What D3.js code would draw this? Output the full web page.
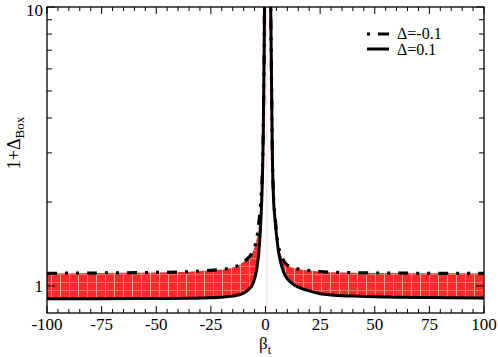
<!DOCTYPE html>
<meta charset="utf-8">
<style>
body { margin: 0; background: #fff; }
svg text { font-family: "Liberation Serif", "Times New Roman", "DejaVu Serif", serif; fill: #000; }
</style>
<svg width="498" height="357"></svg>
<script src="https://d3js.org/d3.v7.min.js"></script>
<script>
// beta_t sample points (shared by both curves)
var beta = [-100, -75, -50, -35, -25, -20, -15, -12, -10, -7.5, -6, -5, -4, -3, -2, -1.5, -1, -0.6, -0.35,
            2.18, 2.6, 3.1, 3.7, 4.3, 5, 6, 7.5, 9, 10.5, 13, 15, 20, 25, 30, 40, 50, 60, 75, 100];
// 1 + Delta_Box for Delta = -0.1 (dash-dot)
var boxNeg = [1.11, 1.113, 1.118, 1.125, 1.138, 1.146, 1.165, 1.19, 1.22, 1.27, 1.32, 1.38, 1.48, 1.7, 2.1, 2.5, 3.7, 7.2, 12,
              12, 7.1, 3.12, 2.08, 1.8, 1.57, 1.38, 1.27, 1.21, 1.18, 1.16, 1.15, 1.135, 1.125, 1.12, 1.115, 1.113, 1.112, 1.11, 1.11];
// 1 + Delta_Box for Delta = 0.1 (solid)
var boxPos = [0.9, 0.9, 0.902, 0.904, 0.907, 0.911, 0.92, 0.93, 0.942, 0.975, 1.01, 1.06, 1.15, 1.33, 1.8, 2.3, 3.6, 7.0, 12,
              12, 7.0, 3.07, 2.03, 1.75, 1.53, 1.32, 1.17, 1.09, 1.05, 1.01, 0.99, 0.96, 0.938, 0.928, 0.92, 0.915, 0.912, 0.909, 0.905];

var xTicks = [-100, -75, -50, -25, 0, 25, 50, 75, 100];
var xMinor = d3.range(-100, 101, 5);
var yTicks = [1, 10];
var yMinor = [0.9, 2, 3, 4, 5, 6, 7, 8, 9];
var legendLabels = ["\u0394=-0.1", "\u0394=0.1"];

var serif = "'Liberation Serif', 'Times New Roman', 'DejaVu Serif', serif";

var svg = d3.select("svg"),
    margin = {top: 7, right: 14, bottom: 44, left: 47},
    width = +svg.attr("width") - margin.left - margin.right,
    height = +svg.attr("height") - margin.top - margin.bottom,
    g = svg.append("g").attr("transform", "translate(" + margin.left + "," + margin.top + ")");

var x = d3.scaleLinear().domain([-100, 100]).range([0, width]);
var y = d3.scaleLog().domain([0.8, 10]).range([height, 0]);

var defs = svg.append("defs");
defs.append("clipPath").attr("id", "clip")
  .append("rect").attr("width", width).attr("height", height);

var pat = defs.append("pattern").attr("id", "hatch")
    .attr("patternUnits", "userSpaceOnUse").attr("width", 9).attr("height", 8);
pat.append("rect").attr("width", 9).attr("height", 8).attr("fill", "#ff2a2a");
pat.append("rect").attr("x", 4).attr("width", 1).attr("height", 8).attr("fill", "#ffa8a8");
pat.append("rect").attr("y", 3).attr("width", 9).attr("height", 1).attr("fill", "#ff6e6e");

var data = beta.map(function(b, i) { return {b: b, neg: boxNeg[i], pos: boxPos[i]}; });

var plot = g.append("g").attr("clip-path", "url(#clip)");

var area = d3.area()
    .curve(d3.curveMonotoneX)
    .x(function(d) { return x(d.b); })
    .y0(function(d) { return y(d.pos); })
    .y1(function(d) { return y(d.neg); });

plot.append("path").datum(data)
    .attr("fill", "url(#hatch)")
    .attr("d", area);

// faint line at the peak
plot.append("line")
    .attr("x1", x(0.6)).attr("x2", x(0.6))
    .attr("y1", 0).attr("y2", height)
    .attr("stroke", "#f6dcdc").attr("stroke-width", 1);

var lineNeg = d3.line().curve(d3.curveMonotoneX)
    .x(function(d) { return x(d.b); })
    .y(function(d) { return y(d.neg); });
var linePos = d3.line().curve(d3.curveMonotoneX)
    .x(function(d) { return x(d.b); })
    .y(function(d) { return y(d.pos); });

plot.append("path").datum(data)
    .attr("fill", "none").attr("stroke", "#000").attr("stroke-width", 3.2)
    .attr("stroke-dasharray", "10,8,3,8,3,8")
    .attr("d", lineNeg);

plot.append("path").datum(data)
    .attr("fill", "none").attr("stroke", "#000").attr("stroke-width", 3)
    .attr("d", linePos);

// frame
g.append("rect").attr("width", width).attr("height", height)
    .attr("fill", "none").attr("stroke", "#000").attr("stroke-width", 1.3);

// ticks on all four sides, pointing inward
var tk = g.append("g").attr("stroke", "#000").attr("stroke-width", 1);
xMinor.forEach(function(v) {
  var len = xTicks.indexOf(v) >= 0 ? 7 : 4;
  tk.append("line").attr("x1", x(v)).attr("x2", x(v)).attr("y1", height).attr("y2", height - len);
  tk.append("line").attr("x1", x(v)).attr("x2", x(v)).attr("y1", 0).attr("y2", len);
});
yTicks.concat(yMinor).forEach(function(v) {
  var len = yTicks.indexOf(v) >= 0 ? 8 : 5;
  tk.append("line").attr("x1", 0).attr("x2", len).attr("y1", y(v)).attr("y2", y(v));
  tk.append("line").attr("x1", width).attr("x2", width - len).attr("y1", y(v)).attr("y2", y(v));
});

g.selectAll(".xlab").data(xTicks).enter().append("text")
    .attr("x", function(d) { return x(d); })
    .attr("y", height + 17)
    .attr("text-anchor", "middle")
    .attr("font-family", serif)
    .attr("font-size", 17)
    .text(function(d) { return String(d); });

g.selectAll(".ylab").data(yTicks).enter().append("text")
    .attr("x", -4)
    .attr("y", function(d) { return Math.max(y(d) + 6, 9); })
    .attr("text-anchor", "end")
    .attr("font-family", serif)
    .attr("font-size", 17)
    .text(function(d) { return String(d); });

// axis titles
var xt = svg.append("text")
    .attr("x", 265).attr("y", 349)
    .attr("text-anchor", "middle")
    .attr("font-family", serif)
    .attr("font-size", 17);
xt.append("tspan").text("\u03b2");
xt.append("tspan").attr("dy", 5).attr("font-size", 12).text("t");

var yt = svg.append("text")
    .attr("transform", "translate(20,143) rotate(-90)")
    .attr("text-anchor", "middle")
    .attr("font-family", serif)
    .attr("font-size", 18);
yt.append("tspan").text("1+\u0394");
yt.append("tspan").attr("dy", 4).attr("font-size", 13).text("Box");

// legend
var leg = svg.append("g");
leg.append("line").attr("x1", 367).attr("x2", 389).attr("y1", 34).attr("y2", 34)
    .attr("stroke", "#000").attr("stroke-width", 3).attr("stroke-dasharray", "3,8,11,8");
leg.append("line").attr("x1", 367).attr("x2", 389).attr("y1", 49).attr("y2", 49)
    .attr("stroke", "#000").attr("stroke-width", 3);
leg.selectAll("text").data(legendLabels).enter().append("text")
    .attr("x", 397)
    .attr("y", function(d, i) { return 39 + i * 16; })
    .attr("font-family", serif)
    .attr("font-size", 16)
    .text(function(d) { return d; });
</script>
